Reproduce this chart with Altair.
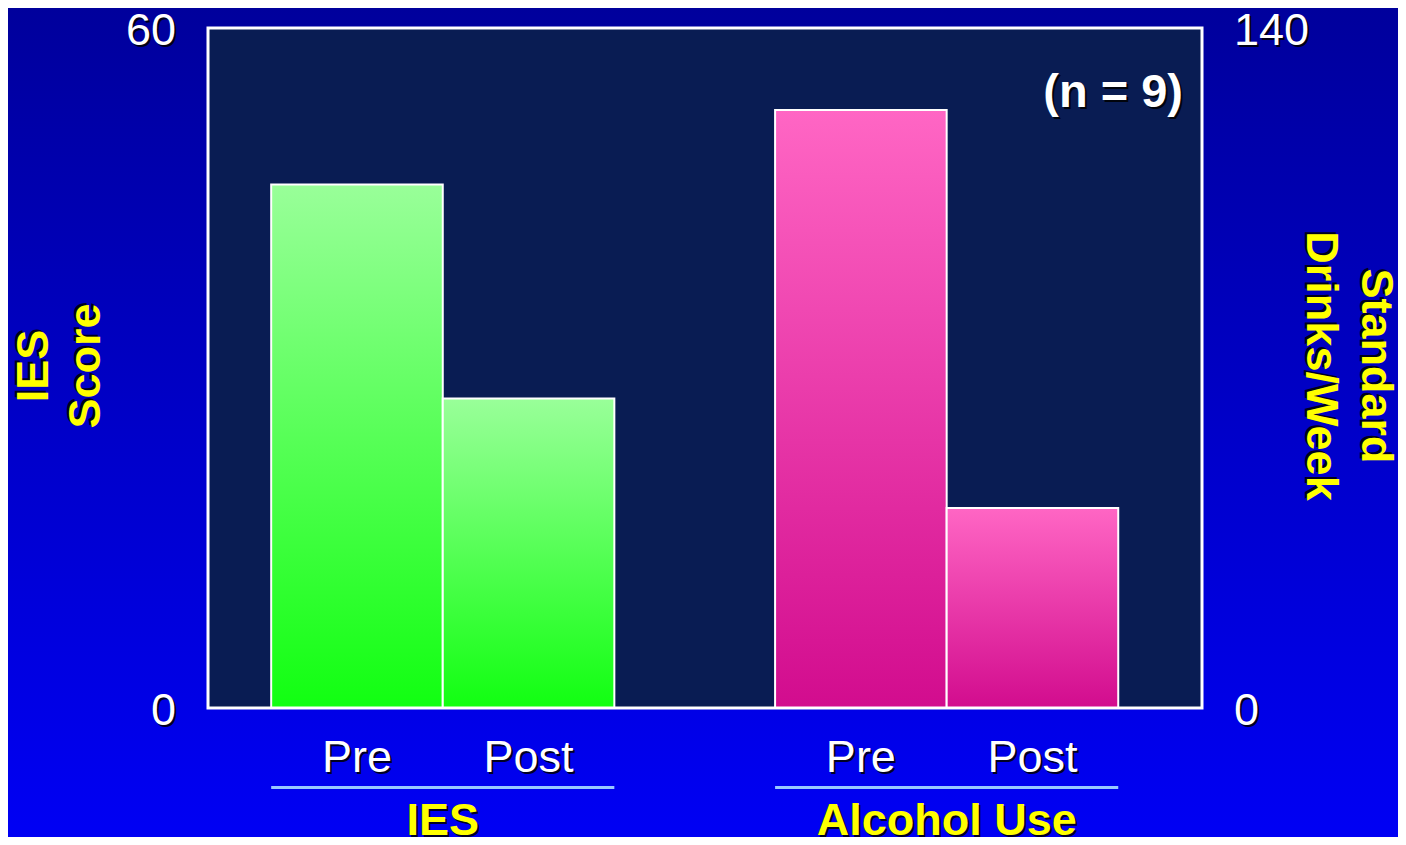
import altair as alt
import pandas as pd

# ---------------- data ----------------
groups = ["IES", "Alcohol Use"]
phases = ["Pre", "Post"]
ies_values = [46.2, 27.3]          # IES score (left axis, 0-60)
alcohol_values = [123.1, 41.2]     # standard drinks / week (right axis, 0-140)
ies_ticks = [0, 60]
alcohol_ticks = [0, 140]
n_label = "(n = 9)"
left_title = ["IES", "Score"]
right_title = ["Standard", "Drinks/Week"]

ies_df = pd.DataFrame({"group": groups[0], "phase": phases, "value": ies_values})
alc_df = pd.DataFrame({"group": groups[1], "phase": phases, "value": alcohol_values})
phase_df = pd.concat([ies_df, alc_df], ignore_index=True)
group_df = pd.DataFrame({"group": groups})
ies_tick_df = pd.DataFrame({"v": ies_ticks})
alc_tick_df = pd.DataFrame({"v": alcohol_ticks})
one = alt.Data(values=[{"k": 1}])

W, H = 994, 680
FONT = "Liberation Sans"

xscale = alt.Scale(domain=groups, paddingInner=0.319, paddingOuter=0.1458, align=0.43)
offscale = alt.Scale(domain=phases, paddingInner=0, paddingOuter=0)
ies_scale = alt.Scale(domain=[0, 60], nice=False, zero=True)
alc_scale = alt.Scale(domain=[0, 140], nice=False, zero=True)
X = alt.X("group:N", scale=xscale, axis=None)
XO = alt.XOffset("phase:N", scale=offscale)


def grad(top, bottom):
    return alt.Gradient(
        gradient="linear",
        stops=[alt.GradientStop(color=top, offset=0),
               alt.GradientStop(color=bottom, offset=1)],
        x1=0, x2=0, y1=0, y2=1,
    )


def shadowed(data, enc, sdx=2, sdy=2, dx=0, dy=0, color="white", **mk):
    base = alt.Chart(data)
    sh = base.mark_text(font=FONT, fill="black", opacity=0.85,
                        dx=dx + sdx, dy=dy + sdy, **mk).encode(**enc)
    fg = base.mark_text(font=FONT, fill=color, dx=dx, dy=dy, **mk).encode(**enc)
    return [sh, fg]


bg = alt.Chart(one).mark_rect(fill=grad("#00009c", "#0000f4")).encode(
    x=alt.value(-200), x2=alt.value(1190), y=alt.value(-20), y2=alt.value(809))
plotfill = alt.Chart(one).mark_rect(fill="#091c53").encode(
    x=alt.value(0), x2=alt.value(W), y=alt.value(0), y2=alt.value(H))

ies_bars = alt.Chart(ies_df).mark_bar(
    fill=grad("#99ff99", "#11ff11"), stroke="white", strokeWidth=2
).encode(x=X, xOffset=XO, y=alt.Y("value:Q", scale=ies_scale, axis=None))

alc_bars = alt.Chart(alc_df).mark_bar(
    fill=grad("#ff66c4", "#d20c8e"), stroke="white", strokeWidth=2
).encode(x=X, xOffset=XO, y=alt.Y("value:Q", scale=alc_scale, axis=None))

frame = alt.Chart(one).mark_rect(fillOpacity=0, stroke="white", strokeWidth=3).encode(
    x=alt.value(0), x2=alt.value(W), y=alt.value(0), y2=alt.value(H))

underline = alt.Chart(group_df).mark_bar(color="#99c8ff").encode(
    x=X, y=alt.value(758), y2=alt.value(761))

layers = [bg, plotfill, ies_bars, alc_bars, frame, underline]

# y tick labels
layers += shadowed(ies_tick_df,
                   dict(x=alt.value(-32),
                        y=alt.Y("v:Q", scale=ies_scale, axis=None),
                        text=alt.Text("v:Q")),
                   dy=17, fontSize=45, align="right", baseline="alphabetic")
layers += shadowed(alc_tick_df,
                   dict(x=alt.value(1026),
                        y=alt.Y("v:Q", scale=alc_scale, axis=None),
                        text=alt.Text("v:Q")),
                   dy=17, fontSize=45, align="left", baseline="alphabetic")

# Pre / Post labels
layers += shadowed(phase_df,
                   dict(x=X, xOffset=XO, y=alt.value(744), text=alt.Text("phase:N")),
                   fontSize=45, align="center", baseline="alphabetic")

# group labels
layers += shadowed(group_df,
                   dict(x=X, y=alt.value(807), text=alt.Text("group:N")),
                   color="#ffff00", fontSize=45, fontWeight="bold",
                   align="center", baseline="alphabetic")

# (n = 9)
layers += shadowed(one, dict(x=alt.value(975), y=alt.value(79)),
                   text=n_label, fontSize=47, fontWeight="bold",
                   align="right", baseline="alphabetic")

# axis titles
layers += shadowed(one, dict(x=alt.value(-160), y=alt.value(338)),
                   sdx=2, sdy=-2, color="#ffff00",
                   text=left_title, fontSize=45, fontWeight="bold", angle=270,
                   lineHeight=52, align="center", baseline="alphabetic")
layers += shadowed(one, dict(x=alt.value(1154), y=alt.value(338)),
                   sdx=-2, sdy=2, color="#ffff00",
                   text=right_title, fontSize=45, fontWeight="bold", angle=90,
                   lineHeight=55, align="center", baseline="alphabetic")

chart = alt.layer(*layers).resolve_scale(y="independent").properties(
    width=W, height=H,
    autosize=alt.AutoSizeParams(type="none"),
    padding={"left": 200, "top": 20, "right": 196, "bottom": 129},
).configure(background="#0000c8").configure_view(stroke="transparent")

chart.save("out.html", embed_options={"renderer": "svg", "actions": False})
